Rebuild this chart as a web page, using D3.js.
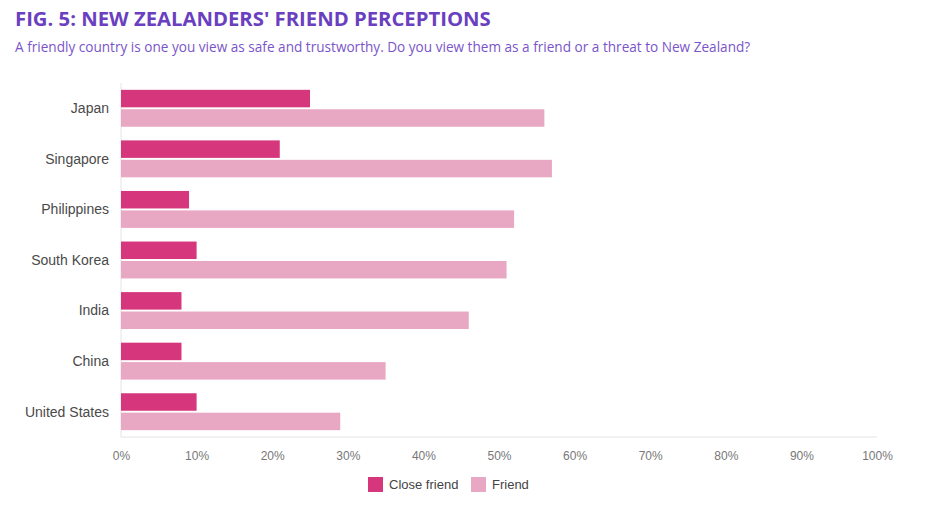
<!DOCTYPE html>
<html>
<head>
<meta charset="utf-8">
<script src="https://d3js.org/d3.v7.min.js"></script>
<style>
  body { margin: 0; background: #fff; }
  .title { font-family: "Open Sans", "Noto Sans", sans-serif; font-weight: 700; font-size: 20.3px; fill: #6a3fc0; }
  .subtitle { font-family: "Open Sans", "Noto Sans", sans-serif; font-size: 13.6px; fill: #7a55c9; }
  .lbl { font-family: "Liberation Sans", Arial, sans-serif; font-size: 14px; fill: #4a4a4a; }
  .tick text { font-family: "Liberation Sans", Arial, sans-serif; font-size: 12px; fill: #777; }
  .legend text { font-family: "Liberation Sans", Arial, sans-serif; font-size: 13px; fill: #444; }
</style>
</head>
<body>
<div id="chart"></div>
<script>
const countries = ["Japan", "Singapore", "Philippines", "South Korea", "India", "China", "United States"];
const seriesNames = ["Close friend", "Friend"];
const closeFriend = [25, 21, 9, 10, 8, 8, 10];
const friend = [56, 57, 52, 51, 46, 35, 29];
const ticks = [0, 10, 20, 30, 40, 50, 60, 70, 80, 90, 100];
const colors = ["#d6367b", "#e8a7c3"];

const width = 926, height = 509;
const svg = d3.select("#chart").append("svg")
  .attr("width", width).attr("height", height);

svg.append("text").attr("class", "title").attr("x", 15).attr("y", 26)
  .text("FIG. 5: NEW ZEALANDERS' FRIEND PERCEPTIONS");
svg.append("text").attr("class", "subtitle").attr("x", 15).attr("y", 52)
  .text("A friendly country is one you view as safe and trustworthy. Do you view them as a friend or a threat to New Zealand?");

const x = d3.scaleLinear().domain([0, 100]).range([121, 877]);
const y = d3.scaleBand().domain(countries).range([83, 437]).paddingInner(0.27).paddingOuter(0.135);
const y1 = d3.scaleBand().domain(seriesNames).range([0, y.bandwidth()]).paddingInner(0.1);

const rows = countries.map((c, i) => ({ country: c, values: [closeFriend[i], friend[i]] }));

// axis lines
svg.append("line").attr("x1", x(0)).attr("x2", x(0)).attr("y1", 83).attr("y2", 437)
  .attr("stroke", "#e4e4e4");
svg.append("line").attr("x1", x(0)).attr("x2", x(100)).attr("y1", 437).attr("y2", 437)
  .attr("stroke", "#e4e4e4");

const g = svg.selectAll("g.row").data(rows).join("g")
  .attr("class", "row")
  .attr("transform", d => `translate(0,${y(d.country)})`);

g.selectAll("rect").data(d => d.values.map((v, k) => ({ v, k }))).join("rect")
  .attr("x", x(0))
  .attr("y", d => y1(seriesNames[d.k]))
  .attr("height", y1.bandwidth())
  .attr("width", d => x(d.v) - x(0))
  .attr("fill", d => colors[d.k]);

svg.selectAll("text.lbl").data(countries).join("text")
  .attr("class", "lbl")
  .attr("x", 109)
  .attr("y", d => y(d) + y.bandwidth() / 2)
  .attr("dy", "0.35em")
  .attr("text-anchor", "end")
  .text(d => d);

const axis = svg.append("g").attr("transform", "translate(0,437)")
  .call(d3.axisBottom(x).tickValues(ticks).tickFormat(d => d + "%").tickSize(0).tickPadding(14));
axis.select(".domain").remove();

const legend = svg.append("g").attr("class", "legend");
const legendX = [368, 471];
seriesNames.forEach((s, i) => {
  legend.append("rect").attr("x", legendX[i]).attr("y", 477).attr("width", 15).attr("height", 15)
    .attr("fill", colors[i]);
  legend.append("text").attr("x", legendX[i] + 21).attr("y", 489).text(s);
});
</script>
</body>
</html>
